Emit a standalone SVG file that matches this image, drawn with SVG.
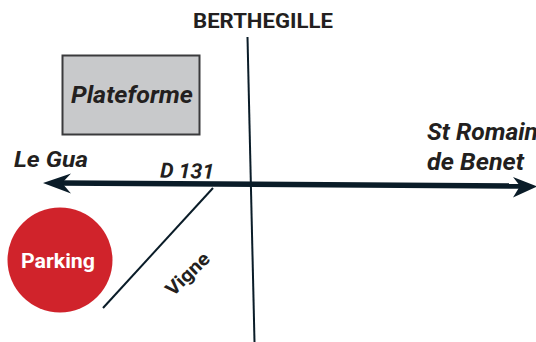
<svg xmlns="http://www.w3.org/2000/svg" width="536" height="342" viewBox="0 0 536 342">
<style>
.t{font-family:"Roboto","Liberation Sans",sans-serif;font-weight:700;fill:#231f20}
.i{font-style:italic}
.r{fill:none;stroke:#0a1c28}
.h{fill:#0a1c28}
</style>
<rect width="536" height="342" fill="#fff"/>
<g id="connectors">
<path class="r" stroke-width="2" d="M247.500 37L254.500 342"/>
<path class="r" stroke-width="5.500" d="M60 183L525 186"/>
<path class="h" d="M43 183L71 173.500L62 183L71 193.500Z"/>
<path class="h" d="M537 186.500L513 177L520 186L513 197.500Z"/>
<path class="r" stroke-width="2" d="M213 188L103 308"/>
</g>
<g id="berthegille"><text class="t" x="193" y="27.500" font-size="19.500" textLength="140" lengthAdjust="spacingAndGlyphs">BERTHEGILLE</text></g>
<g id="plateforme">
<rect x="62.500" y="55.500" width="137" height="79" fill="#c8c9cb" stroke="#3a3a3c" stroke-width="2"/>
<text class="t i" x="71" y="102.500" font-size="24" textLength="122" lengthAdjust="spacingAndGlyphs">Plateforme</text>
</g>
<g id="le-gua"><text class="t i" x="14" y="166.500" font-size="22.500" textLength="74" lengthAdjust="spacingAndGlyphs">Le Gua</text></g>
<g id="d131"><text class="t i" font-size="21" transform="translate(160 177.500) rotate(1.500)" textLength="54" lengthAdjust="spacingAndGlyphs">D 131</text></g>
<g id="st-romain">
<text class="t i" x="427" y="140" font-size="23" textLength="111" lengthAdjust="spacingAndGlyphs">St Romain</text>
<text class="t i" x="427" y="169.500" font-size="23" textLength="97" lengthAdjust="spacingAndGlyphs">de Benet</text>
</g>
<g id="parking">
<circle cx="60" cy="260" r="52.500" fill="#d0232b"/>
<text class="t" x="21" y="267.500" font-size="20.500" textLength="74" lengthAdjust="spacingAndGlyphs" style="fill:#fff">Parking</text>
</g>
<g id="vigne"><text class="t" font-size="19" transform="translate(173 297) rotate(-44)" textLength="53" lengthAdjust="spacingAndGlyphs">Vigne</text></g>
</svg>
